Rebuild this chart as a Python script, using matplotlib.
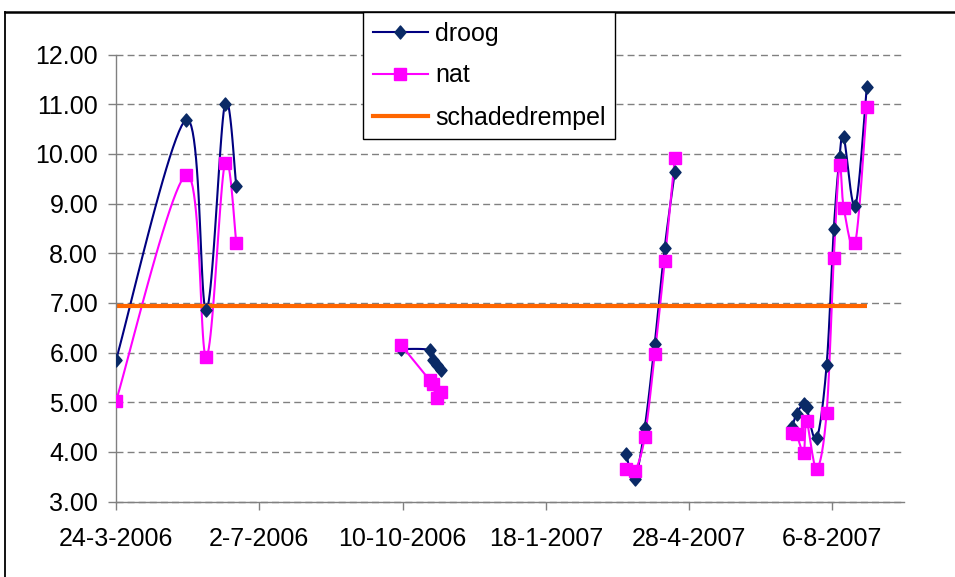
import numpy as np
import matplotlib
matplotlib.use("Agg")
import matplotlib.pyplot as plt
import matplotlib.dates as mdates
from matplotlib.lines import Line2D
from matplotlib.path import Path
from matplotlib.ticker import FixedLocator, FuncFormatter

plt.rcParams['font.family'] = ['Liberation Sans', 'DejaVu Sans']

# ---------------- data ----------------
dates = ['2006-03-24', '2006-05-12', '2006-05-26', '2006-06-08', '2006-06-16',
         '2006-10-09', '2006-10-29', '2006-10-31', '2006-11-03', '2006-11-06',
         '2007-03-15', '2007-03-21', '2007-03-28', '2007-04-04', '2007-04-11', '2007-04-18',
         '2007-07-09', '2007-07-12', '2007-07-17', '2007-07-19', '2007-07-26', '2007-08-02',
         '2007-08-07', '2007-08-11', '2007-08-14', '2007-08-22', '2007-08-30']
droog = [5.85, 10.69, 6.85, 11.00, 9.35,
         6.07, 6.05, 5.85, 5.75, 5.65,
         3.96, 3.46, 4.48, 6.18, 8.11, 9.63,
         4.50, 4.77, 4.97, 4.90, 4.27, 5.75, 8.48, 9.93, 10.33, 8.95, 11.34]
nat = [5.02, 9.58, 5.91, 9.81, 8.21,
       6.15, 5.44, 5.36, 5.08, 5.21,
       3.66, 3.61, 4.29, 5.96, 7.85, 9.91,
       4.38, 4.35, 3.98, 4.62, 3.66, 4.79, 7.90, 9.78, 8.90, 8.21, 10.95]
schadedrempel = 6.93
tick_dates = ['2006-03-24', '2006-07-02', '2006-10-10', '2007-01-18', '2007-04-28', '2007-08-06']
x_max_date = '2007-09-25'
y_ticks = [3, 4, 5, 6, 7, 8, 9, 10, 11, 12]

# ---------------- figure ----------------
W, H = 955, 577
FS = 18
fig = plt.figure(figsize=(W / 100, H / 100), dpi=100)
fig.patch.set_facecolor('white')
ax = fig.add_axes([116 / W, 1 - 501.5 / H, (904 - 116) / W, (501.5 - 54.5) / H])

xnum = mdates.date2num(np.array(dates, dtype='datetime64[D]'))
tnum = mdates.date2num(np.array(tick_dates, dtype='datetime64[D]'))
xmax = mdates.date2num(np.datetime64(x_max_date))

ax.set_xlim(tnum[0], xmax)
ax.set_ylim(3, 12)

# groups separated by gaps (empty cells)
gaps = np.where(np.diff(xnum) > 60)[0] + 1
groups = np.split(np.arange(len(xnum)), gaps)


def smooth(xs, ys, n=24):
    pts = ax.transData.transform(np.column_stack([xs, ys]))
    if len(pts) < 2:
        return np.asarray(xs), np.asarray(ys)
    out = []
    t = np.linspace(0, 1, n)[:, None]
    for i in range(len(pts) - 1):
        p0 = pts[i - 1] if i > 0 else pts[i]
        p1, p2 = pts[i], pts[i + 1]
        p3 = pts[i + 2] if i + 2 < len(pts) else p2
        c1 = p1 + (p2 - p0) / 6
        c2 = p2 - (p3 - p1) / 6
        seg = (1 - t) ** 3 * p1 + 3 * (1 - t) ** 2 * t * c1 + 3 * (1 - t) * t ** 2 * c2 + t ** 3 * p2
        out.append(seg if i == 0 else seg[1:])
    out = np.vstack(out)
    d = ax.transData.inverted().transform(out)
    return d[:, 0], d[:, 1]


navy = '#000080'
navy_mk = '#0A2A66'
mag = '#FF00FF'
orange = '#FF6600'

diamond = Path([(0, 1), (0.85, 0), (0, -1), (-0.85, 0), (0, 1)],
               [Path.MOVETO, Path.LINETO, Path.LINETO, Path.LINETO, Path.CLOSEPOLY])

dv = np.array(droog)
nv = np.array(nat)
for g in groups:
    sx, sy = smooth(xnum[g], dv[g])
    ax.plot(sx, sy, color=navy, lw=1.5, zorder=2, solid_joinstyle='round')
    sx, sy = smooth(xnum[g], nv[g])
    ax.plot(sx, sy, color=mag, lw=1.5, zorder=2.1, solid_joinstyle='round')

ax.plot([xnum[0], xnum[-1]], [schadedrempel, schadedrempel], color=orange, lw=3, zorder=2.2,
        solid_capstyle='butt')
ax.plot(xnum, dv, ls='none', marker=diamond, ms=9.4, color=navy_mk, mec=navy_mk, zorder=3)
ax.plot(xnum, nv, ls='none', marker='s', ms=8, color=mag, mec=mag, zorder=3.1)

# axes styling
ax.set_yticks(y_ticks)
ax.yaxis.set_major_formatter(FuncFormatter(lambda v, p: f"{v:.2f}"))
ax.xaxis.set_major_locator(FixedLocator(tnum))


def fmt_date(v, p):
    d = mdates.num2date(v)
    return f"{d.day}-{d.month}-{d.year}"


ax.xaxis.set_major_formatter(FuncFormatter(fmt_date))
ax.tick_params(axis='both', labelsize=FS, colors='#808080', labelcolor='black',
               length=5.8, width=1, direction='out')
ax.tick_params(axis='y', pad=7)
ax.tick_params(axis='x', pad=12.5)
for s in ['top', 'right']:
    ax.spines[s].set_visible(False)
for s in ['left', 'bottom']:
    ax.spines[s].set_color('#808080')
    ax.spines[s].set_linewidth(1)
ax.yaxis.grid(True, color='#808080', lw=1, ls=(0, (5, 3)))
ax.set_axisbelow(True)
for gl in ax.get_ygridlines():
    gl.set_clip_on(False)

# outer chart border (top and left visible)
fig.add_artist(Line2D([5 / W, 1.0], [1 - 12 / H, 1 - 12 / H], color='black', lw=1.8,
                      transform=fig.transFigure))
fig.add_artist(Line2D([5 / W, 5 / W], [0, 1 - 12 / H], color='black', lw=1.3,
                      transform=fig.transFigure))

# legend
handles = [Line2D([], [], color=navy, lw=1.5, marker=diamond, ms=9.4, mfc=navy_mk, mec=navy_mk),
           Line2D([], [], color=mag, lw=1.5, marker='s', ms=8, mfc=mag, mec=mag),
           Line2D([], [], color=orange, lw=3)]
leg = fig.legend(handles, ['droog', 'nat', 'schadedrempel'], loc='upper left',
                 bbox_to_anchor=(363 / W, 1 - 12 / H), borderaxespad=0, fontsize=FS,
                 frameon=True, fancybox=False, edgecolor='black', framealpha=1,
                 handlelength=2.2, handletextpad=0.3, labelspacing=0.72, borderpad=0.38)
leg.get_frame().set_linewidth(1)
leg.set_zorder(10)

fig.savefig('out.png', dpi=100, facecolor='white')
